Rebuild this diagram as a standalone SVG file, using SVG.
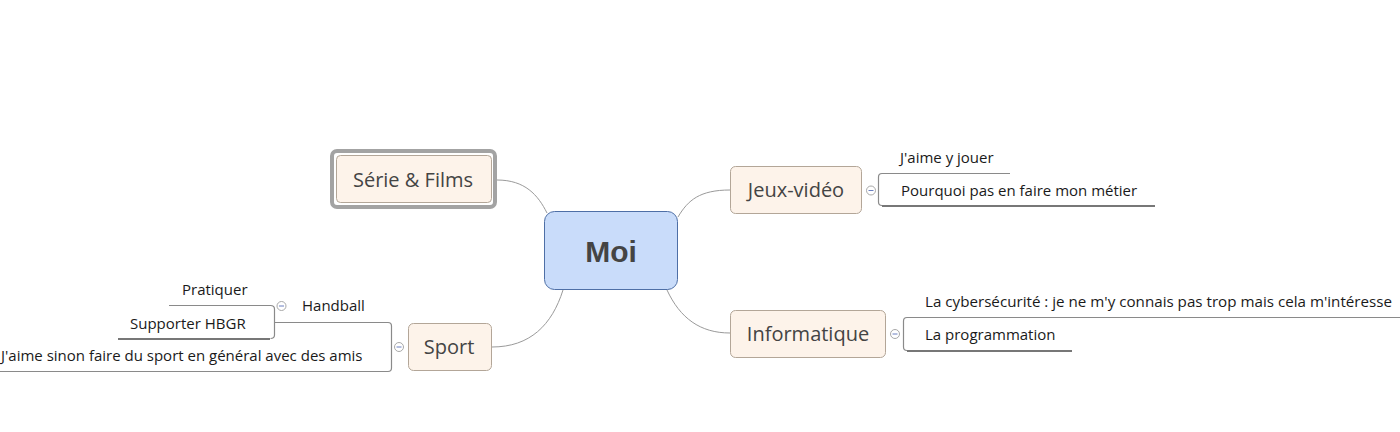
<svg xmlns="http://www.w3.org/2000/svg" width="1400" height="432" viewBox="0 0 1400 432">
<style>
.node{fill:#fdf3ea;stroke:#b3a698;stroke-width:1}
.lbl{font-family:"Open Sans","Noto Sans",sans-serif;font-size:20px;fill:#444;text-anchor:middle}
.sub{font-family:"Open Sans","Noto Sans",sans-serif;font-size:15px;fill:#1a1a1a}
.conn{fill:none;stroke:#9a9a9a;stroke-width:1}
.br{fill:none;stroke:#8a8a8a;stroke-width:1.2}
.ul{fill:none;stroke:#777;stroke-width:2}
.col{fill:#fff;stroke:#a8a8a8;stroke-width:1}
.minus{stroke:#6a7fc0;stroke-width:1}
</style>
<rect width="1400" height="432" fill="#fff"/>
<g id="connectors">
<path class="conn" d="M497 180 C525 180 538 195 547 213"/>
<path class="conn" d="M678 217 C688 200 700 190 730 190"/>
<path class="conn" d="M667 290 C680 318 700 333 730 333"/>
<path class="conn" d="M563 290 C552 325 530 347 492 347"/>
</g>
<g id="moi">
<rect x="544.5" y="211.5" width="133" height="78" rx="10" fill="#c9dcfa" stroke="#4e6fa6" stroke-width="1"/>
<text x="611" y="262" font-family="'Liberation Sans',Arial,sans-serif" font-weight="bold" font-size="30" fill="#444" text-anchor="middle">Moi</text>
</g>
<g id="series">
<rect x="332" y="151" width="163" height="56" rx="5" fill="none" stroke="#a3a3a3" stroke-width="4"/>
<rect class="node" x="336.5" y="155.5" width="155" height="47" rx="4"/>
<text class="lbl" x="413" y="187">Série &amp; Films</text>
</g>
<g id="jeux">
<rect class="node" x="730.5" y="166.5" width="131" height="47" rx="5"/>
<text class="lbl" x="796" y="197">Jeux-vidéo</text>
<circle class="col" cx="871" cy="190.5" r="4.5"/>
<line class="minus" x1="868.5" y1="190.5" x2="873.5" y2="190.5"/>
</g>
<g id="jeux-children">
<path class="br" d="M1010 173.5 H882 Q878.5 173.5 878.5 177 V202 Q878.5 205.5 882 205.5"/>
<line class="ul" x1="882" y1="206" x2="1155" y2="206"/>
<text class="sub" x="900" y="163">J'aime y jouer</text>
<text class="sub" x="901" y="196">Pourquoi pas en faire mon métier</text>
</g>
<g id="informatique">
<rect class="node" x="730.5" y="310.5" width="155" height="47" rx="5"/>
<text class="lbl" x="808" y="341">Informatique</text>
<circle class="col" cx="895" cy="334" r="4.5"/>
<line class="minus" x1="892.5" y1="334" x2="897.5" y2="334"/>
</g>
<g id="info-children">
<path class="br" d="M1400 317.5 H907 Q903.5 317.5 903.5 321 V347 Q903.5 350.5 907 350.5"/>
<line class="ul" x1="907" y1="351" x2="1072" y2="351"/>
<text class="sub" x="925" y="307" textLength="467" lengthAdjust="spacingAndGlyphs">La cybersécurité : je ne m'y connais pas trop mais cela m'intéresse</text>
<text class="sub" x="925" y="340">La programmation</text>
</g>
<g id="sport">
<rect class="node" x="408.5" y="323.5" width="83" height="47" rx="5"/>
<text class="lbl" x="449" y="354">Sport</text>
<circle class="col" cx="399" cy="347" r="4.5"/>
<line class="minus" x1="396.5" y1="347" x2="401.5" y2="347"/>
</g>
<g id="sport-children">
<path class="br" d="M274 322.5 H388 Q391.5 322.5 391.5 326 V368 Q391.5 371.5 388 371.5 H0"/>
<text class="sub" x="1" y="361">J'aime sinon faire du sport en général avec des amis</text>
</g>
<g id="handball">
<text class="sub" x="302" y="311">Handball</text>
<circle class="col" cx="281.5" cy="306" r="4.5"/>
<line class="minus" x1="279" y1="306" x2="284" y2="306"/>
</g>
<g id="handball-children">
<path class="br" d="M169 305.5 H270.5 Q274.5 305.5 274.5 309 V335 Q274.5 338.5 270.5 338.5"/>
<line class="ul" x1="118" y1="339" x2="270" y2="339"/>
<text class="sub" x="182" y="295">Pratiquer</text>
<text class="sub" x="130" y="329">Supporter HBGR</text>
</g>
</svg>
